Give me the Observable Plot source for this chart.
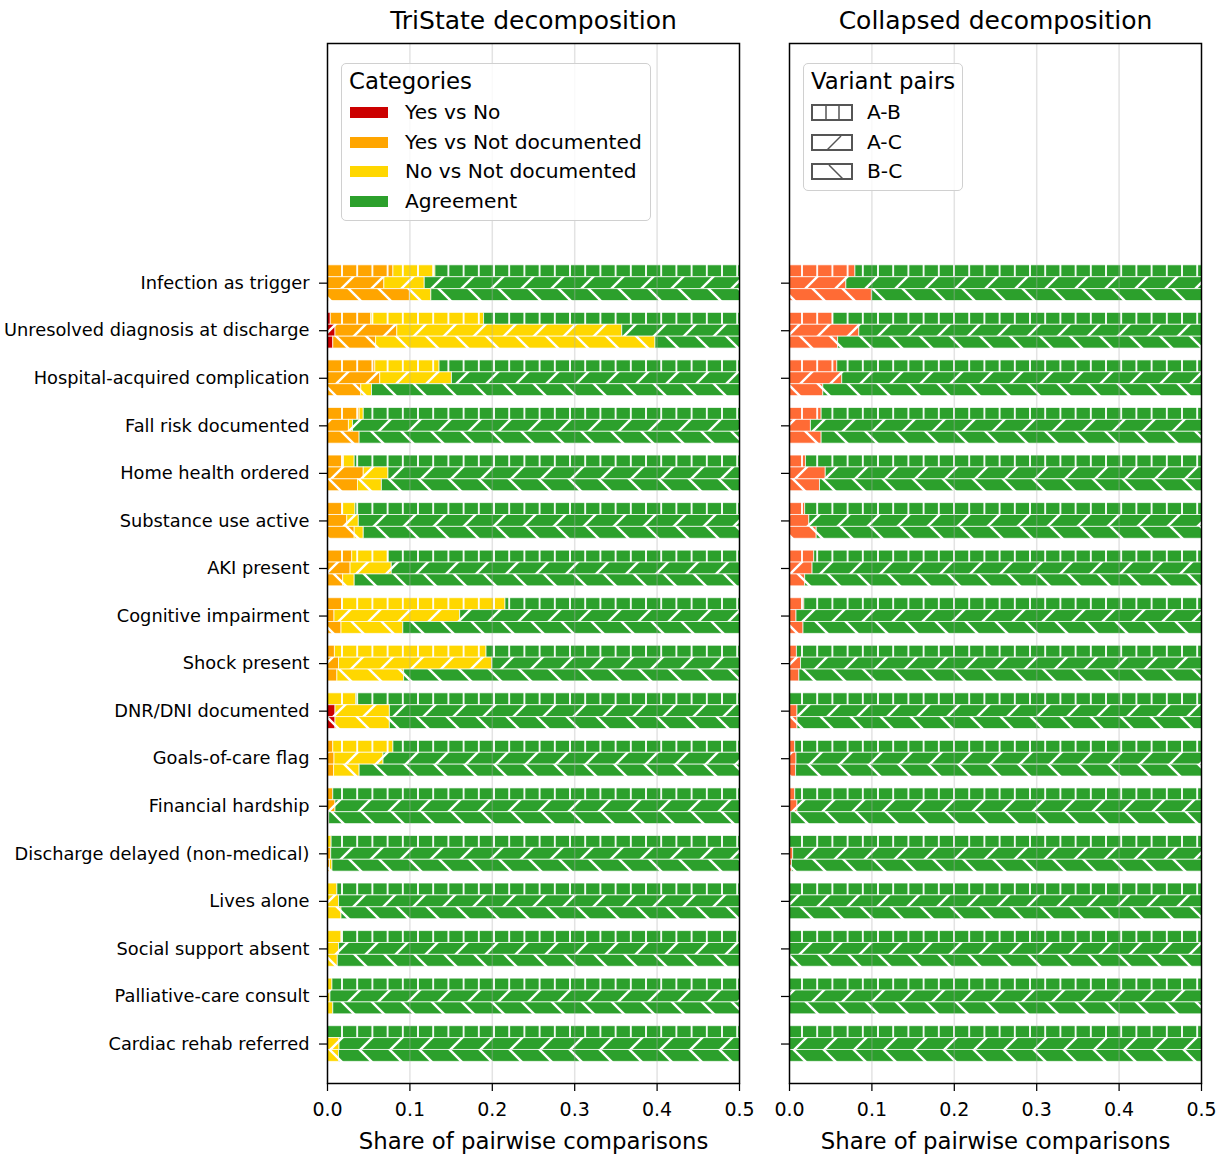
<!DOCTYPE html>
<html><head><meta charset="utf-8">
<script src="https://cdn.jsdelivr.net/npm/d3@7"></script>
<script src="https://cdn.jsdelivr.net/npm/@observablehq/plot@0.6"></script>
<style>
body{margin:0;background:#fff;font-family:"DejaVu Sans",sans-serif;color:#000;}
#wrap{position:relative;width:1228px;height:1156px;display:flex;overflow:hidden;}
.legend{position:absolute;background:rgba(255,255,255,0.8);border:1px solid #d0d0d0;border-radius:5px;box-sizing:border-box;}
.legend .t{position:absolute;left:7px;height:30px;line-height:30px;font-size:22.8px;white-space:nowrap;}
.legend .e{position:absolute;left:63px;height:30px;line-height:30px;font-size:20.2px;white-space:nowrap;}
.legend .sw{position:absolute;left:8px;width:38px;height:11px;}
.legend svg{position:absolute;left:7px;}
</style></head>
<body>
<div id="wrap"></div>
<script>
const categories = ["Infection as trigger","Unresolved diagnosis at discharge","Hospital-acquired complication","Fall risk documented","Home health ordered","Substance use active","AKI present","Cognitive impairment","Shock present","DNR/DNI documented","Goals-of-care flag","Financial hardship","Discharge delayed (non-medical)","Lives alone","Social support absent","Palliative-care consult","Cardiac rehab referred"];
const pairs = ["A-B","A-C","B-C"];
const xTicks = [0,0.1,0.2,0.3,0.4,0.5];
const categoryLabels = ["Yes vs No","Yes vs Not documented","No vs Not documented","Agreement"];

// Yes vs No
const yesNoAB = [0,0.004,0,0,0,0,0,0,0,0,0,0,0,0,0,0,0];
const yesNoAC = [0,0.0097,0,0,0,0,0,0,0,0.0097,0,0,0,0,0,0,0];
const yesNoBC = [0,0.007,0,0,0,0,0,0,0,0.0097,0,0,0,0,0,0,0];
// Yes vs Not documented
const yesNdAB = [0.080,0.049,0.058,0.039,0.020,0.019,0.030,0.018,0.009,0,0.007,0.007,0,0,0,0,0];
const yesNdAC = [0.069,0.075,0.064,0.026,0.044,0.024,0.028,0.0085,0.014,0,0.0085,0.0097,0.0045,0,0,0,0];
const yesNdBC = [0.100,0.052,0.041,0.039,0.037,0.033,0.019,0.017,0.012,0,0.008,0.002,0.003,0,0,0,0];
// No vs Not documented
const noNdAB = [0.051,0.137,0.078,0.005,0.013,0.015,0.044,0.198,0.184,0.035,0.073,0,0.005,0.012,0.017,0.006,0];
const noNdAC = [0.049,0.273,0.087,0.005,0.030,0.014,0.050,0.1525,0.186,0.066,0.0595,0,0,0.014,0.014,0.0036,0.0146];
const noNdBC = [0.026,0.339,0.013,0,0.029,0.011,0.014,0.075,0.081,0.066,0.031,0,0.003,0.017,0.0125,0.007,0.014];

const yesNo = [yesNoAB,yesNoAC,yesNoBC];
const yesNd = [yesNdAB,yesNdAC,yesNdBC];
const noNd = [noNdAB,noNdAC,noNdBC];

const colors = {red:"#CC0000", orange:"#FFA500", yellow:"#FFD700", green:"#2CA02C", coll:"#FF6B35"};

function buildRows(mode){
  const rows=[];
  categories.forEach((c,i)=>{
    pairs.forEach((p,j)=>{
      const segs = mode==="tri"
        ? [["red",yesNo[j][i]],["orange",yesNd[j][i]],["yellow",noNd[j][i]]]
        : [["coll",yesNo[j][i]+yesNd[j][i]]];
      let x=0;
      for(const [k,v] of segs){ if(v>0) rows.push({i,j,key:k,x1:x,x2:x+v}); x+=v; }
      rows.push({i,j,key:"green",x1:x,x2:1});
    });
  });
  return rows;
}

function addPatterns(svg,prefix){
  const defs = d3.select(svg).insert("defs",":first-child");
  for(const [key,color] of Object.entries(colors)){
    for(const h of [0,1,2]){
      const p = defs.append("pattern").attr("id",`${prefix}-${key}-${h}`).attr("patternUnits","userSpaceOnUse");
      if(h===0){
        p.attr("width",15.2).attr("height",20);
        p.append("rect").attr("width",15.2).attr("height",20).attr("fill",color);
        p.append("path").attr("d","M7.6,-1L7.6,21").attr("stroke","white").attr("stroke-width",1.8);
      } else if(h===1){
        p.attr("width",30).attr("height",30);
        p.append("rect").attr("width",30).attr("height",30).attr("fill",color);
        p.append("path").attr("d","M-2,32L32,-2M-17,17L17,-17M13,47L47,13").attr("stroke","white").attr("stroke-width",2.4);
      } else {
        p.attr("width",30).attr("height",30);
        p.append("rect").attr("width",30).attr("height",30).attr("fill",color);
        p.append("path").attr("d","M-2,-2L32,32M-17,13L17,47M13,-17L47,17").attr("stroke","white").attr("stroke-width",2.4);
      }
    }
  }
}

function panel({width,marginLeft,marginRight,title,showLabels,prefix,rows}){
  const svg = Plot.plot({
    width, height:1156, marginTop:43, marginBottom:73, marginLeft, marginRight,
    style:{fontFamily:'"DejaVu Sans", sans-serif', fontSize:"17.8px", color:"black", background:"transparent", overflow:"visible"},
    x:{domain:[0,0.5], label:null},
    y:{domain:[-5.04,16.83], reverse:true, label:null},
    color:{type:"identity"},
    marks:[
      Plot.rect(rows,{x1:"x1",x2:"x2",
        y1:d=>d.i+(d.j-1)*0.25-0.125, y2:d=>d.i+(d.j-1)*0.25+0.125,
        fill:d=>`url(#${prefix}-${d.key}-${d.j})`,
        stroke:"white", strokeOpacity:0.7, strokeWidth:1, clip:true}),
      Plot.gridX({ticks:xTicks.slice(1,-1), stroke:"#b0b0b0", strokeOpacity:0.35, strokeWidth:1.5}),
      Plot.axisX({ticks:xTicks, tickFormat:d3.format(".1f"), tickSize:8, tickPadding:11, fontSize:19, label:null, strokeWidth:1.25}),
      Plot.axisY({ticks:d3.range(categories.length), tickFormat: showLabels ? (i=>categories[i]) : (()=>""), tickSize:8, tickPadding:10, fontSize:17.8, label:null, strokeWidth:1.25}),
      Plot.frame({stroke:"black", strokeWidth:1.5}),
      Plot.text([title],{frameAnchor:"top", dy:-23, text:d=>d, fontSize:25, lineAnchor:"middle"}),
      Plot.text(["Share of pairwise comparisons"],{frameAnchor:"bottom", dy:58, text:d=>d, fontSize:22.8, lineAnchor:"middle"})
    ]
  });
  addPatterns(svg,prefix);
  return svg;
}

const wrap = document.getElementById("wrap");
wrap.appendChild(panel({width:764, marginLeft:327, marginRight:25, title:"TriState decomposition", showLabels:true, prefix:"L", rows:buildRows("tri")}));
wrap.appendChild(panel({width:464, marginLeft:25, marginRight:27, title:"Collapsed decomposition", showLabels:false, prefix:"R", rows:buildRows("coll")}));

// Legend: categories
const legL = document.createElement("div");
legL.className="legend";
Object.assign(legL.style,{left:"341px",top:"63px",width:"310px",height:"158px"});
let html = `<div class="t" style="top:2px">Categories</div>`;
const swCols = [colors.red,colors.orange,colors.yellow,colors.green];
const centersL = [48,78,107,137];
categoryLabels.forEach((lab,k)=>{
  html += `<div class="sw" style="top:${centersL[k]-5.5}px;background:${swCols[k]}"></div>`;
  html += `<div class="e" style="top:${centersL[k]-15}px">${lab}</div>`;
});
legL.innerHTML = html;
wrap.appendChild(legL);

// Legend: variant pairs
const legR = document.createElement("div");
legR.className="legend";
Object.assign(legR.style,{left:"803px",top:"63px",width:"160px",height:"128px"});
const centersR = [48,78,107];
const hatchPaths = ["M15,1L15,16M28,1L28,16","M16,16L30,2","M18,2L32,16"];
let h2 = `<div class="t" style="top:2px">Variant pairs</div>`;
pairs.forEach((lab,k)=>{
  h2 += `<svg width="42" height="17" style="top:${centersR[k]-8.5}px"><rect x="1" y="1" width="40" height="15" fill="white" stroke="#555" stroke-width="2"/><path d="${hatchPaths[k]}" stroke="#555" stroke-width="1.5" fill="none"/></svg>`;
  h2 += `<div class="e" style="top:${centersR[k]-15}px">${lab}</div>`;
});
legR.innerHTML = h2;
wrap.appendChild(legR);
</script>
</body></html>
